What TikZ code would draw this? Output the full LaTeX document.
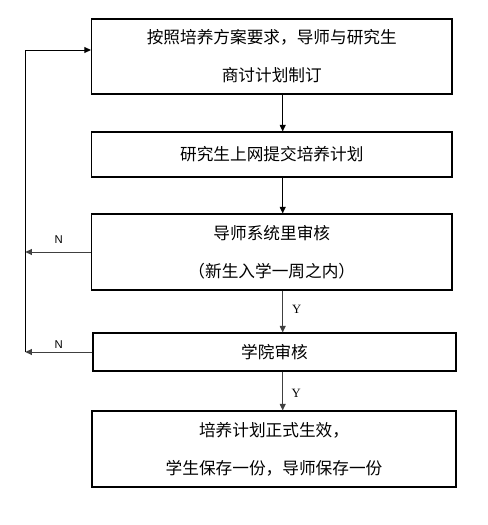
\documentclass[tikz,border=0pt]{standalone}
\usepackage{fontspec}
\setmainfont{Liberation Serif}
\newfontfamily\cjk{Noto Sans CJK SC}
\newfontfamily\lsans{Liberation Sans}
\usetikzlibrary{arrows.meta,calc}
\begin{document}
\begin{tikzpicture}[x=0.75pt,y=-0.75pt,
  box/.style={draw=black,line width=0.8pt,rectangle,inner sep=0pt,align=center,
    font=\cjk\fontsize{12.5}{28.5}\selectfont},
  arr/.style={line width=0.75pt,-{Triangle[length=5pt,width=4.5pt]}},
  garr/.style={arr,draw=black!75,fill=black!75},
  nlab/.style={font=\lsans\fontsize{8.5}{10}\selectfont,inner sep=0pt},
  ylab/.style={font=\fontsize{9.5}{11}\selectfont,inner sep=0pt}]
\useasboundingbox (0,0) rectangle (487,525);
\node[box,minimum width=270.4pt,minimum height=56.25pt] (b1) at (271.75,56.5)
  {按照培养方案要求，导师与研究生\\商讨计划制订};
\node[box,minimum width=270.4pt,minimum height=33.75pt] (b2) at (271.75,154.5)
  {研究生上网提交培养计划};
\node[box,minimum width=270.4pt,minimum height=57pt] (b3) at (271.75,252)
  {导师系统里审核\\（新生入学一周之内）};
\node[box,minimum width=272.25pt,minimum height=28.5pt] (b4) at (274.5,352)
  {学院审核};
\node[box,minimum width=273pt,minimum height=57pt] (b5) at (274,449)
  {培养计划正式生效，\\学生保存一份，导师保存一份};
\coordinate (ax) at (282.7,0);
\coordinate (lx) at (25.3,0);
\coordinate (b1in) at ($(b1.west)+(0,-6.5)$);
\draw[arr] (b1.south -| ax) -- (b2.north -| ax);
\draw[arr] (b2.south -| ax) -- (b3.north -| ax);
\draw[garr] (b3.south -| ax) -- (b4.north -| ax);
\draw[garr] (b4.south -| ax) -- (b5.north -| ax);
\draw[garr] (b3.west) -- (lx |- b3.west);
\draw[garr] (b4.west) -- (lx |- b4.west);
\draw[arr] (lx |- b4.west) -- (lx |- b1in) -- (b1in);
\node[nlab] (n1) at (58.7,240) {N};
\node[nlab] (n2) at (58.7,345) {N};
\node[ylab] (y1) at (296.7,309) {Y};
\node[ylab] (y2) at (296.3,393) {Y};
\end{tikzpicture}
\end{document}
